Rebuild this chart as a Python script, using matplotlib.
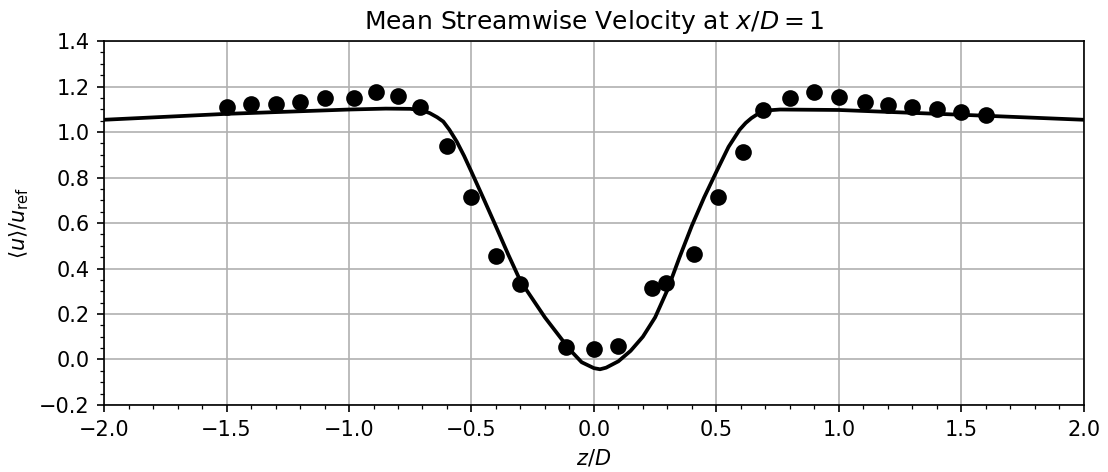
import matplotlib
matplotlib.use("Agg")
import matplotlib.pyplot as plt

# LES / model profile
z_line = [-2.0, -1.5, -1.0, -0.85, -0.75, -0.70, -0.67, -0.64, -0.615, -0.59,
          -0.56, -0.53, -0.50, -0.45, -0.40, -0.35, -0.30, -0.25, -0.20, -0.15,
          -0.10, -0.05, 0.0, 0.025, 0.05, 0.10, 0.15, 0.20, 0.25, 0.30,
          0.35, 0.40, 0.45, 0.50, 0.55, 0.595, 0.62, 0.643, 0.67, 0.69,
          0.72, 0.76, 1.0, 1.5, 2.0]
u_line = [1.054, 1.080, 1.099, 1.103, 1.102, 1.095, 1.083, 1.065, 1.046, 1.010,
          0.958, 0.895, 0.825, 0.706, 0.585, 0.462, 0.345, 0.265, 0.185, 0.115,
          0.045, -0.012, -0.038, -0.043, -0.036, -0.008, 0.038, 0.100, 0.185, 0.305,
          0.450, 0.588, 0.712, 0.825, 0.935, 1.010, 1.040, 1.061, 1.080, 1.090,
          1.096, 1.099, 1.097, 1.076, 1.054]

# experimental points
z_exp = [-1.5, -1.4, -1.3, -1.2, -1.1, -0.98, -0.89, -0.8, -0.71, -0.6,
         -0.5, -0.4, -0.3, -0.115, 0.0, 0.1, 0.236, 0.293, 0.41, 0.507,
         0.61, 0.69, 0.8, 0.9, 1.0, 1.107, 1.2, 1.3, 1.4, 1.5, 1.6]
u_exp = [1.11, 1.122, 1.122, 1.132, 1.149, 1.15, 1.175, 1.16, 1.111, 0.938,
         0.716, 0.456, 0.334, 0.055, 0.048, 0.059, 0.314, 0.336, 0.465, 0.713,
         0.912, 1.095, 1.149, 1.177, 1.156, 1.131, 1.118, 1.108, 1.101, 1.089, 1.074]

fig = plt.figure(figsize=(1108 / 150, 472 / 150), dpi=150)
ax = fig.add_axes([0.094, 0.142, 0.884, 0.771])

ax.plot(z_line, u_line, 'k-', lw=1.8)
ax.plot(z_exp, u_exp, 'ko', ms=7)

ax.set_xlim(-2, 2)
ax.set_ylim(-0.2, 1.4)
ax.minorticks_on()
ax.grid(which='major')
ax.set_title('Mean Streamwise Velocity at $x/D = 1$', fontsize=12)
ax.set_xlabel('$z/D$')
ax.set_ylabel(r'$\langle u \rangle / u_{\mathrm{ref}}$')

fig.savefig('out.png', dpi=150)
